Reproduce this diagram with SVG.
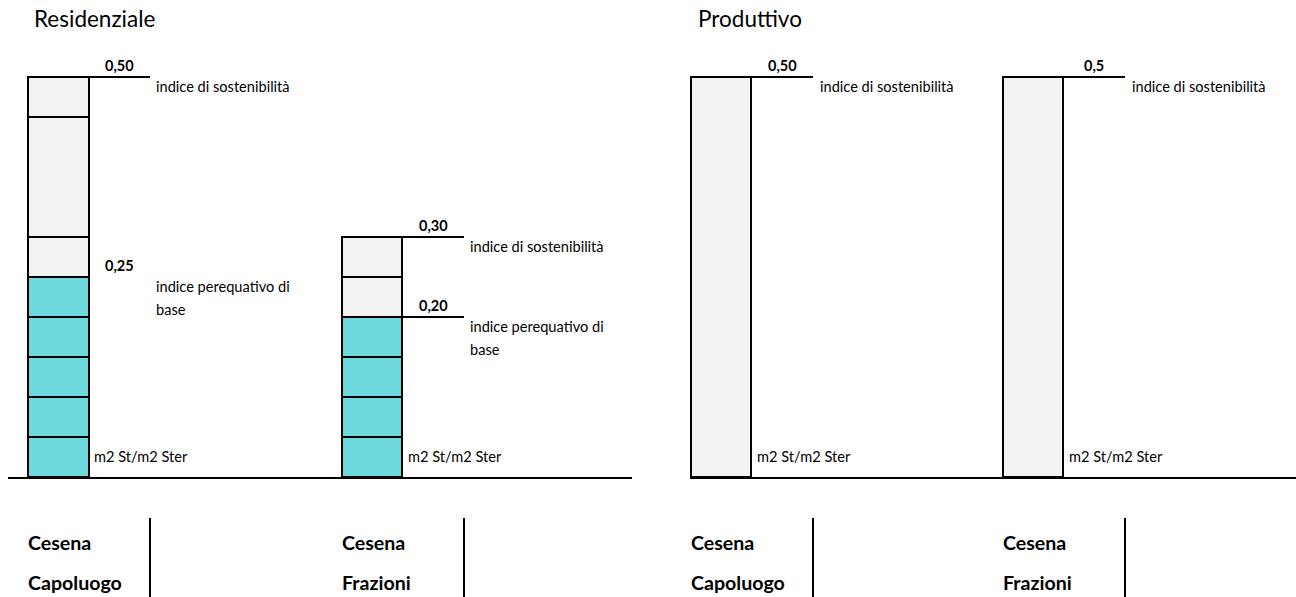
<svg xmlns="http://www.w3.org/2000/svg" width="1296" height="597" viewBox="0 0 1296 597">
<style>
text{font-family:Lato,"Open Sans","Liberation Sans",sans-serif;fill:#000}
.t{font-size:22.5px}
.s{font-size:14.6px}
.b{font-size:14.5px;font-weight:bold}
.l{font-size:19.6px;font-weight:bold}
.g{fill:#f2f2f2;stroke:#000;stroke-width:2}
.c{fill:#6dd9dc;stroke:#000;stroke-width:2}
.ln{stroke:#000;stroke-width:2;fill:none}
</style>
<rect width="1296" height="597" fill="#fff"/>
<text class="t" x="34" y="27">Residenziale</text>
<text class="t" x="698" y="27">Produttivo</text>

<g id="col-capoluogo-res">
<rect class="g" x="28" y="77" width="61" height="40"/>
<rect class="g" x="28" y="117" width="61" height="120"/>
<rect class="g" x="28" y="237" width="61" height="40"/>
<rect class="c" x="28" y="277" width="61" height="40"/>
<rect class="c" x="28" y="317" width="61" height="40"/>
<rect class="c" x="28" y="357" width="61" height="40"/>
<rect class="c" x="28" y="397" width="61" height="40"/>
<rect class="c" x="28" y="437" width="61" height="40"/>
<line class="ln" x1="89" y1="77" x2="150" y2="77"/>
<text class="b" x="105" y="71">0,50</text>
<text class="s" x="156" y="92">indice di sostenibilità</text>
<text class="b" x="105" y="271">0,25</text>
<text class="s" x="156" y="292">indice perequativo di</text>
<text class="s" x="156" y="315">base</text>
<text class="s" x="94" y="462">m2 St/m2 Ster</text>
</g>

<g id="col-frazioni-res">
<rect class="g" x="342" y="237" width="60" height="40"/>
<rect class="g" x="342" y="277" width="60" height="40"/>
<rect class="c" x="342" y="317" width="60" height="40"/>
<rect class="c" x="342" y="357" width="60" height="40"/>
<rect class="c" x="342" y="397" width="60" height="40"/>
<rect class="c" x="342" y="437" width="60" height="40"/>
<line class="ln" x1="402" y1="237" x2="464" y2="237"/>
<line class="ln" x1="402" y1="317" x2="464" y2="317"/>
<text class="b" x="419" y="231">0,30</text>
<text class="s" x="470" y="252">indice di sostenibilità</text>
<text class="b" x="419" y="311">0,20</text>
<text class="s" x="470" y="332">indice perequativo di</text>
<text class="s" x="470" y="355">base</text>
<text class="s" x="408" y="462">m2 St/m2 Ster</text>
</g>

<g id="col-capoluogo-prod">
<rect class="g" x="691" y="77" width="60" height="400"/>
<line class="ln" x1="751" y1="77" x2="813" y2="77"/>
<text class="b" x="768" y="71">0,50</text>
<text class="s" x="820" y="92">indice di sostenibilità</text>
<text class="s" x="757" y="462">m2 St/m2 Ster</text>
</g>

<g id="col-frazioni-prod">
<rect class="g" x="1003" y="77" width="60" height="400"/>
<line class="ln" x1="1063" y1="77" x2="1125" y2="77"/>
<text class="b" x="1084" y="71">0,5</text>
<text class="s" x="1132" y="92">indice di sostenibilità</text>
<text class="s" x="1069" y="462">m2 St/m2 Ster</text>
</g>

<g id="connectors">
<line class="ln" x1="8" y1="478" x2="632" y2="478"/>
<line class="ln" x1="690" y1="478" x2="1296" y2="478"/>
<line class="ln" x1="150" y1="518" x2="150" y2="597"/>
<line class="ln" x1="464" y1="518" x2="464" y2="597"/>
<line class="ln" x1="813" y1="518" x2="813" y2="597"/>
<line class="ln" x1="1125" y1="518" x2="1125" y2="597"/>
</g>

<g id="labels">
<text class="l" x="28" y="550">Cesena</text>
<text class="l" x="28" y="590">Capoluogo</text>
<text class="l" x="342" y="550">Cesena</text>
<text class="l" x="342" y="590">Frazioni</text>
<text class="l" x="691" y="550">Cesena</text>
<text class="l" x="691" y="590">Capoluogo</text>
<text class="l" x="1003" y="550">Cesena</text>
<text class="l" x="1003" y="590">Frazioni</text>
</g>
</svg>
